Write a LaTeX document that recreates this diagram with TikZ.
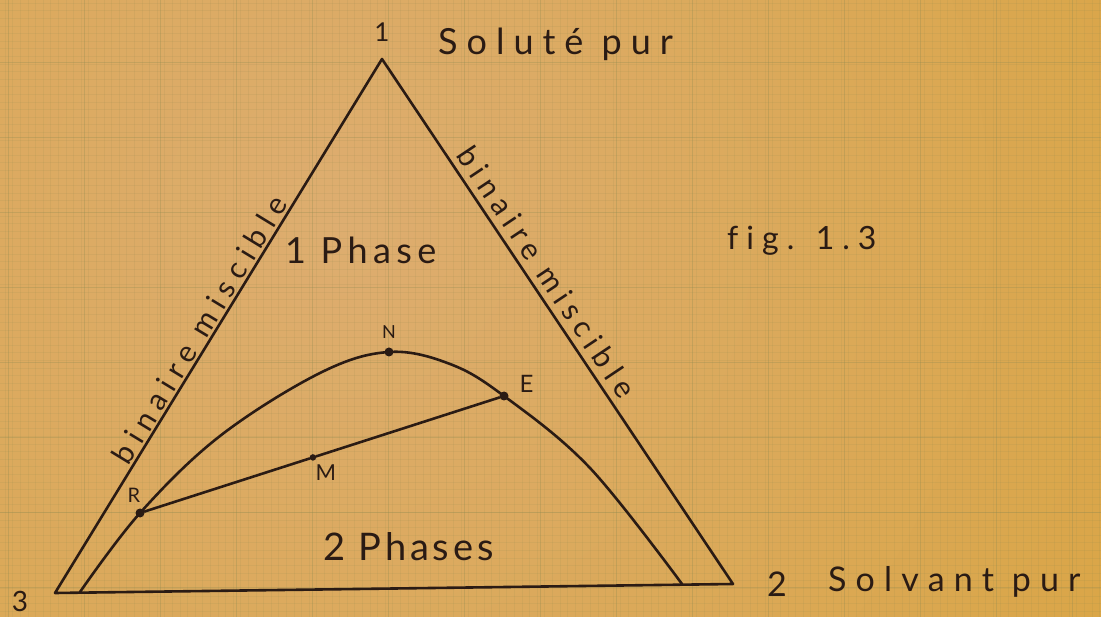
\documentclass[tikz,border=0pt]{standalone}
\usepackage{fontspec}
\setmainfont{Lato}
\newfontfamily\handfont[Ligatures=NoCommon]{Lato}
\usepackage{tikz}
\usetikzlibrary{positioning,calc}
\definecolor{ink}{HTML}{2A1B14}
\definecolor{paperpink}{HTML}{DDAD70}
\definecolor{paperyellow}{HTML}{D8A233}
\definecolor{gridink}{HTML}{8E8A50}

\begin{document}
\begin{tikzpicture}[
  x=1pt,y=-1pt,
  edge/.style={draw=ink,line width=2.6pt,line join=round,line cap=round},
  ptdot/.style={circle,fill=ink,inner sep=0pt,minimum size=9pt},
  hand/.style 2 args={text=ink,inner sep=0pt,font=\handfont\fontsize{#1}{#1}\selectfont\addfontfeature{LetterSpace=#2}},
  minorgrid/.style={draw=gridink,opacity=0.12,line width=0.5pt},
  majorgrid/.style={draw=gridink,opacity=0.3,line width=0.8pt},
]
  \useasboundingbox (0,0) rectangle (1101,617);
  \fill[paperyellow] (0,0) rectangle (1101,617);
  \begin{scope}
    \clip (0,0) rectangle (1101,617);
    \shade[inner color=paperpink,outer color=paperyellow] (340,220) circle (1300);
    \foreach \i in {0,...,145} \draw[minorgrid] ({5+7.6*\i},0) -- ++(0,617);
    \foreach \j in {0,...,81} \draw[minorgrid] (0,{3+7.6*\j}) -- ++(1101,0);
    \foreach \i in {0,...,14} \draw[majorgrid] ({8+76*\i},0) -- ++(0,617);
    \foreach \j in {0,...,8} \draw[majorgrid] (0,{62+75*\j}) -- ++(1101,0);
  \end{scope}

  \coordinate (v1) at (382,59);
  \coordinate (v2) at (733,584);
  \coordinate (v3) at (55,593);
  \coordinate (c3) at (80,592);
  \coordinate (c2) at (682,584);
  \node[ptdot] (R) at (140,513) {};
  \node[ptdot] (N) at (389,352) {};
  \node[ptdot] (E) at (504,396) {};
  \node[ptdot,minimum size=6.5pt] (M) at ($(R)!0.475!(E)$) {};

  \draw[edge] (v1) -- (v2) -- (v3) -- cycle;
  \draw[edge] plot[smooth,tension=0.6] coordinates {(c3) (R) (220,436) (320,373) (N) (450,364) (E) (590,468) (c2)};
  \draw[edge] (R) -- (M) -- (E);

  \node[hand={26}{0},above=17pt of v1] (lbl1) {1};
  \node[hand={36}{25},anchor=base west] (solute) at (438,55) {Soluté pur};
  \node[hand={34}{0}] (lbl2) at (777,584) {2};
  \node[hand={34}{27},anchor=base west] (solvant) at (828,591) {Solvant pur};
  \node[hand={28}{0}] (lbl3) at (20,601) {3};
  \node[hand={36}{15},anchor=base west] (phase1) at (285,264) {1 Phase};
  \node[hand={38}{10},anchor=base west] (phase2) at (323,560) {2 Phases};
  \node[hand={32}{25},anchor=base west] (fig) at (727,250) {fig. 1.3};
  \node[hand={30}{25},anchor=base,rotate=58.6] (binL) at (209,335) {binaire miscible};
  \node[hand={30}{22},anchor=base,rotate=-56.2] (binR) at (538,278) {binaire miscible};

  \node[hand={18}{0},above=9pt of N] (lblN) {N};
  \node[hand={24}{0},above right=0pt and 12pt of E] (lblE) {E};
  \node[hand={22}{0},below right=5pt and 0pt of M] (lblM) {M};
  \node[hand={20}{0},above=6pt of R,xshift=-6pt] (lblR) {R};
\end{tikzpicture}
\end{document}
